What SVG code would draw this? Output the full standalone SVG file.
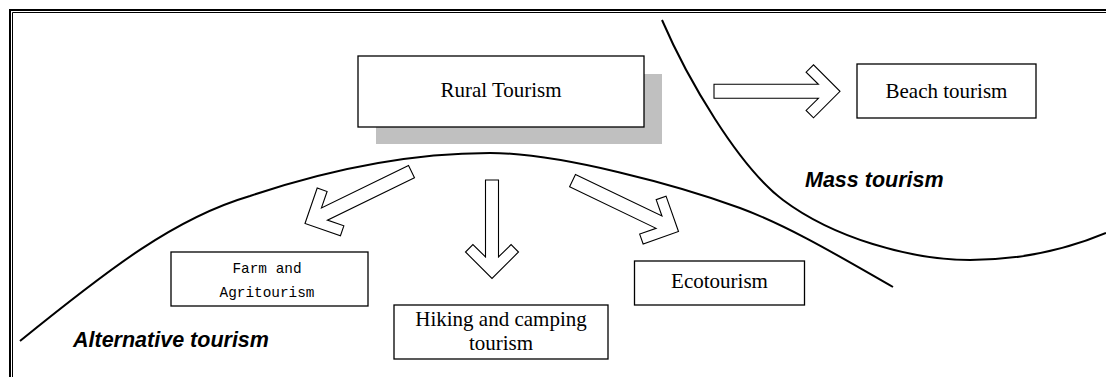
<svg xmlns="http://www.w3.org/2000/svg" width="1106" height="377" viewBox="0 0 1106 377">
<style>
.box{fill:#fff;stroke:#000;stroke-width:1.3}
.lbl{font-family:"Liberation Serif","Times New Roman",serif;font-size:21px;fill:#000;text-anchor:middle}
.mono{font-family:"Liberation Mono","Courier New",monospace;font-size:14.4px;fill:#000;text-anchor:middle}
.zone{font-family:"Liberation Sans",Arial,sans-serif;font-size:21.5px;font-weight:bold;font-style:italic;fill:#000}
.curve{fill:none;stroke:#000;stroke-width:2}
.arrow{fill:#fff;stroke:#000;stroke-width:1.1;stroke-linejoin:miter}
</style>
<rect width="1106" height="377" fill="#fff"/>
<g id="frame" fill="none" stroke="#000">
<path d="M9,10 H1106 M10,9 V377" stroke-width="2"/>
<path d="M12.5,12.5 H1106 M12.5,12.5 V377" stroke-width="1"/>
</g>
<g id="zones">
<path class="curve" d="M20,341 C110,268 175,218 250,196 C330,169 410,153 490,153 C560,153 680,186 740,208 C790,226.5 843,258.5 893,287"/>
<path class="curve" d="M662,20 C687,78 738,166 783,200 C833,237.5 910,260 970,260 C1030,260 1075,246 1106,233"/>
<text class="zone" x="73" y="347">Alternative tourism</text>
<text class="zone" x="805" y="187">Mass tourism</text>
</g>
<g id="connectors">
<polygon class="arrow" transform="translate(840,91.3)" points="-126,-7 -21.6,-7 -33.9,-19.1 -26.5,-26.5 0,0 -26.5,26.5 -33.9,19.1 -21.6,7 -126,7"/>
<polygon class="arrow" transform="translate(492,278.5) rotate(90)" points="-98.5,-6.5 -21.6,-6.5 -33.9,-19.1 -26.5,-26.5 0,0 -26.5,26.5 -33.9,19.1 -21.6,6.5 -98.5,6.5"/>
<polygon class="arrow" transform="translate(305,223.5) rotate(154)" points="-118.5,-6.8 -21.6,-6.8 -33.9,-19.1 -26.5,-26.5 0,0 -26.5,26.5 -33.9,19.1 -21.6,6.8 -118.5,6.8"/>
<polygon class="arrow" transform="translate(678.5,231.5) rotate(25.6)" points="-117.5,-6.8 -21.6,-6.8 -33.9,-19.1 -26.5,-26.5 0,0 -26.5,26.5 -33.9,19.1 -21.6,6.8 -117.5,6.8"/>
</g>
<g id="rural">
<rect x="376" y="74" width="286" height="70" fill="#c0c0c0"/>
<rect class="box" x="358" y="56" width="286" height="71"/>
<text class="lbl" x="501" y="97">Rural Tourism</text>
</g>
<g id="beach">
<rect class="box" x="857" y="64" width="179" height="54"/>
<text class="lbl" x="946.5" y="98">Beach tourism</text>
</g>
<g id="farm">
<rect class="box" x="171" y="252" width="197" height="54"/>
<text class="mono" x="267" y="273">Farm and</text>
<text class="mono" x="267" y="297">Agritourism</text>
</g>
<g id="hiking">
<rect class="box" x="394" y="305" width="214" height="54"/>
<text class="lbl" x="501" y="326">Hiking and camping</text>
<text class="lbl" x="501" y="350">tourism</text>
</g>
<g id="eco">
<rect class="box" x="634.5" y="261" width="170" height="44"/>
<text class="lbl" x="719.5" y="288">Ecotourism</text>
</g>
</svg>
